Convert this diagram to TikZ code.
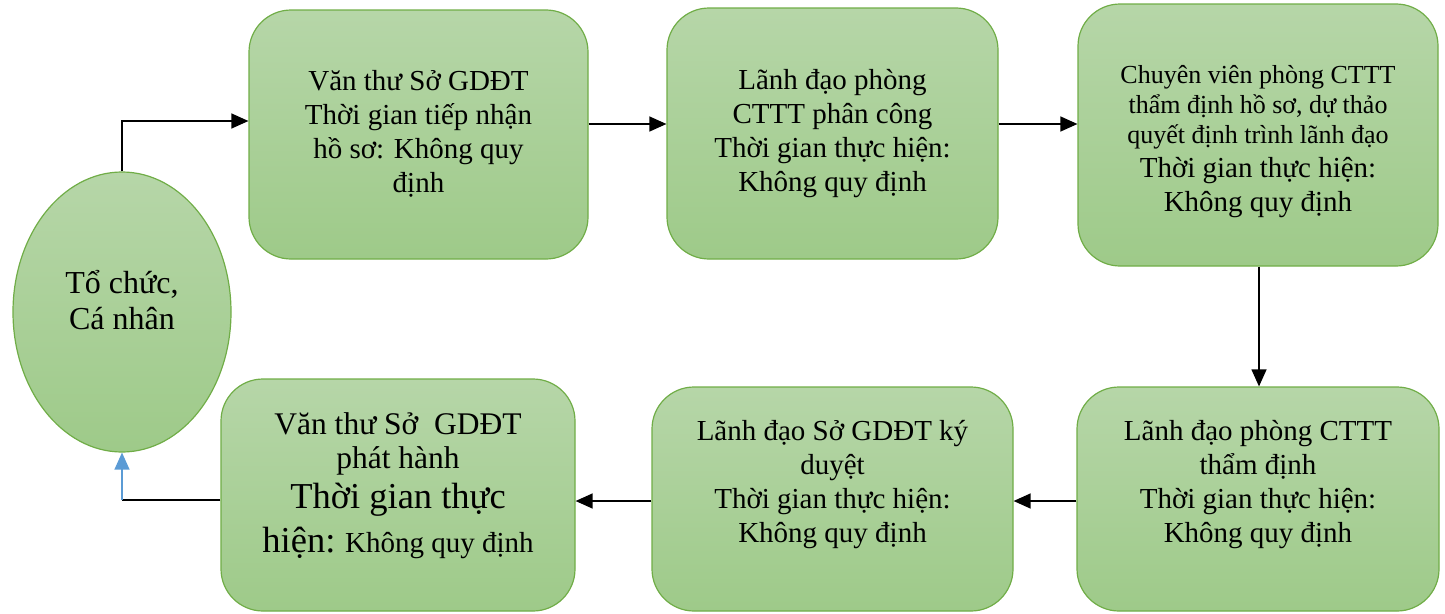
\documentclass[tikz,border=0pt]{standalone}
\usepackage{fontspec}
\setmainfont{Liberation Serif}
\usetikzlibrary{arrows.meta,shapes.geometric}
\definecolor{gtop}{RGB}{182,214,168}
\definecolor{gbot}{RGB}{158,202,137}
\definecolor{gline}{RGB}{112,173,71}
\definecolor{blu}{RGB}{91,155,213}
\newcommand{\nsz}{\fontsize{29}{34}\selectfont}
\newcommand{\ssz}{\fontsize{26}{30}\selectfont}
\newcommand{\msz}{\fontsize{31.5}{37}\selectfont}
\newcommand{\bsz}{\fontsize{36.5}{44}\selectfont}
\begin{document}
\begin{tikzpicture}[x=1pt,y=-1pt,
  box/.style={draw=gline, line width=1.2pt, rounded corners=42pt, top color=gtop, bottom color=gbot, inner sep=0pt},
  oval/.style={ellipse, draw=gline, line width=1.2pt, top color=gtop, bottom color=gbot, inner sep=0pt},
  txt/.style={align=center, inner sep=0pt, font=\nsz},
  arr/.style={line width=1.3pt, -{Triangle[length=17pt,width=15pt]}},
  barr/.style={line width=1.3pt, draw=blu, -{Triangle[length=17pt,width=15pt,fill=blu]}},
  plain/.style={line width=1.3pt}]
\useasboundingbox (0,0) rectangle (1445,613);
\node[oval, minimum width=218pt, minimum height=280pt] (e) at (122,312) {};
\node[box, minimum width=339pt, minimum height=249pt] (b1) at (418.5,134.5) {};
\node[box, minimum width=331pt, minimum height=251pt] (b2) at (832.5,133.5) {};
\node[box, minimum width=360pt, minimum height=262pt] (b3) at (1258,135) {};
\node[box, minimum width=362pt, minimum height=224pt] (b4) at (1258,499) {};
\node[box, minimum width=361pt, minimum height=224pt] (b5) at (832.5,499) {};
\node[box, minimum width=354pt, minimum height=232pt] (b6) at (398,495) {};

\node[txt, font=\fontsize{32}{36}\selectfont] (te) at (122,300) {Tổ chức,\\Cá nhân};
\node[txt] (t1) at (418.5,134) {Văn thư Sở GDĐT\\Thời gian tiếp nhận\\hồ sơ: Không quy\\định};
\node[txt] (t2) at (832.5,134) {Lãnh đạo phòng\\CTTT phân công\\Thời gian thực hiện:\\Không quy định};
\node[txt] (t3) at (1258,142) {{\ssz Chuyên viên phòng CTTT}\\[-4pt]{\ssz thẩm định hồ sơ, dự thảo}\\[-4pt]{\ssz quyết định trình lãnh đạo}\\Thời gian thực hiện:\\Không quy định};
\node[txt] (t4) at (1258,485) {Lãnh đạo phòng CTTT\\thẩm định\\Thời gian thực hiện:\\Không quy định};
\node[txt] (t5) at (832.5,485) {Lãnh đạo Sở GDĐT ký\\duyệt\\Thời gian thực hiện:\\Không quy định};
\node[txt] (t6) at (398,486) {{\msz Văn thư Sở~~GDĐT}\\{\msz phát hành}\\[6pt]{\bsz Thời gian thực}\\[10pt]{\bsz hiện:} Không quy định};

\coordinate (c1) at (122,121);
\coordinate (c2) at (122,500);
\draw[arr] (e.north) -- (c1) -- (c1 -| b1.west);
\draw[arr] (b1.east |- 0,124) -- (b2.west |- 0,124);
\draw[arr] (b2.east |- 0,124) -- (b3.west |- 0,124);
\draw[arr] (b3.south -| 1259,0) -- (b4.north -| 1259,0);
\draw[arr] (b4.west |- 0,501) -- (b5.east |- 0,501);
\draw[arr] (b5.west |- 0,501) -- (b6.east |- 0,501);
\draw[plain] (b6.west |- c2) -- (c2);
\draw[barr] (c2) -- (e.south);
\end{tikzpicture}
\end{document}
